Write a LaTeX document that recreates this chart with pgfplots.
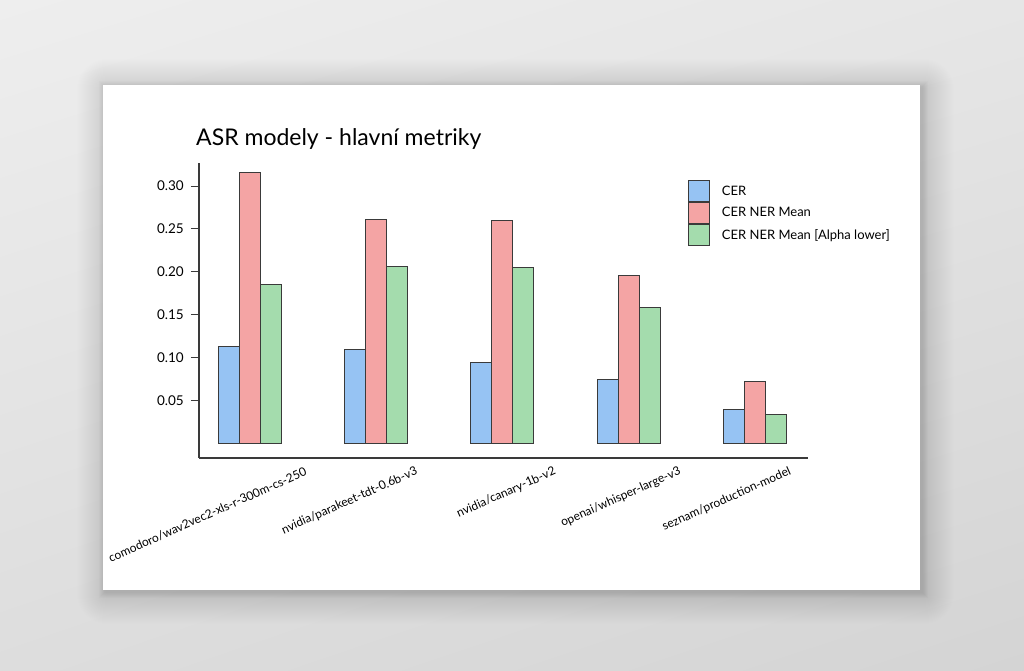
\documentclass[border=0pt]{standalone}
\usepackage{pgfplots}
\pgfplotsset{compat=1.18}
\usepackage{fontspec}
\setmainfont{Lato}
\usetikzlibrary{patterns,shadings}
\definecolor{bgTL}{HTML}{EEEEEE}
\definecolor{bgTR}{HTML}{E6E6E6}
\definecolor{bgBL}{HTML}{DDDDDD}
\definecolor{bgBR}{HTML}{D4D4D4}
\definecolor{cBlue}{HTML}{96C3F3}
\definecolor{cRed}{HTML}{F4A4A4}
\definecolor{cGreen}{HTML}{A4DCAD}
\definecolor{ink}{HTML}{3A3A3A}

\pgfplotstableread{
x cer ner alpha
0 0.113 0.316 0.185
1 0.109 0.2605 0.206
2 0.094 0.260 0.205
3 0.074 0.196 0.158
4 0.039 0.072 0.033
}\datatable

\begin{document}
\begin{tikzpicture}
% background
\shade[upper left=bgTL, upper right=bgTR, lower left=bgBL, lower right=bgBR] (0,0) rectangle (1024bp,671bp);
% card shadow
\foreach \i in {1,...,30}{
  \fill[black, opacity=0.0045, rounded corners={\i*1bp}] ({(103-\i+4)*1bp},{(81-\i-4)*1bp}) rectangle ({(920+\i+4)*1bp},{(586+\i-4)*1bp});
}
\foreach \i in {1,...,6}{
  \fill[black, opacity=0.012] ({(103-\i+2)*1bp},{(81-\i-2)*1bp}) rectangle ({(920+\i+2)*1bp},{(586+\i-2)*1bp});
}
\fill[white] (103bp,81bp) rectangle (920bp,586bp);
% title
\node[anchor=west, inner sep=0pt, font=\fontsize{23bp}{26bp}\selectfont, text=black] at (196bp,{(671-139)*1bp}) {ASR modely - hlavní metriky};

\begin{axis}[
  at={(199bp,213bp)}, anchor=south west,
  scale only axis, width=609bp, height=295bp,
  xmin=-0.402, xmax=4.42, ymin=-0.0175, ymax=0.327,
  axis x line=bottom, axis y line=left,
  axis line style={-, ink, line width=1.1bp},
  ybar=0pt, bar width=21bp,
  xtick={0.445,1.325,2.418,3.409,4.281},
  xticklabels={comodoro/wav2vec2-xls-r-300m-cs-250, nvidia/parakeet-tdt-0.6b-v3, nvidia/canary-1b-v2, openai/whisper-large-v3, seznam/production-model},
  xtick style={draw=none},
  xticklabel style={yshift=-5bp, rotate=24, anchor=east, inner sep=0pt, font=\fontsize{12bp}{13bp}\selectfont, text=black},
  ytick={0.05,0.10,0.15,0.20,0.25,0.30},
  /pgf/number format/fixed, /pgf/number format/fixed zerofill, /pgf/number format/precision=2, /pgf/number format/assume math mode=true,
  yticklabel style={font=\fontsize{13.5bp}{15bp}\selectfont, text=black, inner sep=0pt, xshift=-7bp},
  ytick style={ink, line width=1bp},
  tick align=outside, major tick length=8bp,
  legend style={at={(rel axis cs:0.803,0.942)}, anchor=north west, draw=none, fill=none, inner sep=0pt, outer sep=0pt, row sep=0pt, font=\fontsize{13bp}{15bp}\selectfont, nodes={inner sep=0pt}, /tikz/every odd column/.append style={column sep=12bp}},
  legend cell align=left,
  legend image code/.code={\draw[#1] (0bp,-10.5bp) rectangle (21bp,10.5bp);},
  clip=false,
]
\addplot[draw=ink, line width=0.9bp, fill=cBlue] table[x=x, y=cer] {\datatable};
\addplot[draw=ink, line width=0.9bp, fill=cRed] table[x=x, y=ner] {\datatable};
\addplot[draw=ink, line width=0.9bp, fill=cGreen] table[x=x, y=alpha] {\datatable};
\legend{CER, CER NER Mean, CER NER Mean [Alpha lower]}
\end{axis}
\end{tikzpicture}
\end{document}
